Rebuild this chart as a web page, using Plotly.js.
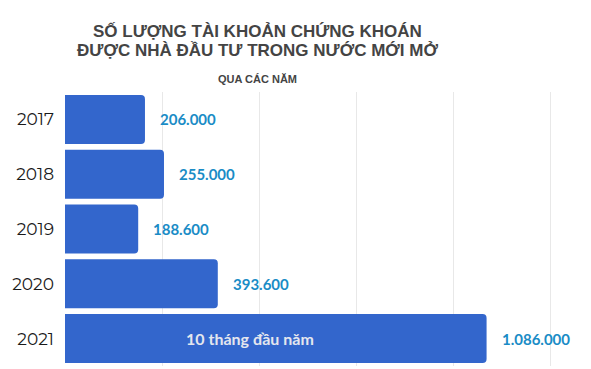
<!DOCTYPE html>
<html>
<head>
<meta charset="utf-8">
<script src="https://cdn.plot.ly/plotly-3.0.1.min.js"></script>
<style>html,body{margin:0;padding:0;background:#fff;}#chart{width:591px;height:369px;}</style>
</head>
<body>
<div id="chart"></div>
<script>
const years = ["2017", "2018", "2019", "2020", "2021"];
const accounts = [206000, 255000, 188600, 393600, 1086000];
const valueLabels = ["206.000", "255.000", "188.600", "393.600", "1.086.000"];
const insideLabels = ["", "", "", "", "10 tháng đầu năm"];
const titleLine1 = "SỐ LƯỢNG TÀI KHOẢN CHỨNG KHOÁN";
const titleLine2 = "ĐƯỢC NHÀ ĐẦU TƯ TRONG NƯỚC MỚI MỞ";
const subtitle = "QUA CÁC NĂM";

const trace = {
  type: "bar",
  orientation: "h",
  y: years,
  x: accounts,
  marker: {color: "#3366CC", cornerradius: 4, line: {width: 0}},
  width: 0.895,
  hoverinfo: "none"
};

const annotations = [];
years.forEach((y, i) => {
  annotations.push({
    x: accounts[i], y: i, xref: "x", yref: "y",
    text: "<b>" + valueLabels[i] + "</b>",
    showarrow: false, xanchor: "left", yanchor: "middle", xshift: 13,
    font: {family: "Lato, sans-serif", size: 15, color: "#1A8CC6", weight: 900}
  });
  if (insideLabels[i]) {
    annotations.push({
      x: accounts[i] * 0.44, y: i, xref: "x", yref: "y",
      text: insideLabels[i],
      showarrow: false, xanchor: "center", yanchor: "middle",
      font: {family: "Lato, sans-serif", size: 16, color: "#E4E6EE", weight: 700}
    });
  }
});

// Title lines as paper annotations (centred at x≈257px)
const titleX = (257 - 65) / 526;
const titleFont = {family: "Liberation Sans, Arial, sans-serif", size: 17, color: "#444444", weight: 700};
annotations.push(
  {xref: "paper", yref: "paper", x: titleX, y: 1, yshift: 61, xanchor: "center", yanchor: "middle",
   showarrow: false, text: "<b>" + titleLine1 + "</b>", font: titleFont},
  {xref: "paper", yref: "paper", x: titleX, y: 1, yshift: 42, xanchor: "center", yanchor: "middle",
   showarrow: false, text: "<b>" + titleLine2 + "</b>", font: titleFont},
  {xref: "paper", yref: "paper", x: titleX, y: 1, yshift: 13, xanchor: "center", yanchor: "middle",
   showarrow: false, text: "<b>" + subtitle + "</b>",
   font: {family: "Liberation Sans, Arial, sans-serif", size: 11, color: "#444444"}}
);

const layout = {
  width: 591, height: 369,
  margin: {l: 65, r: 0, t: 92, b: 3},
  paper_bgcolor: "#ffffff", plot_bgcolor: "#ffffff",
  showlegend: false,
  xaxis: {
    range: [0, 1355000], dtick: 250000, tick0: 0,
    showgrid: true, gridcolor: "#E8E8E8", gridwidth: 1,
    zeroline: false, showticklabels: false, showline: false, ticks: "",
    fixedrange: true
  },
  yaxis: {
    autorange: "reversed", type: "category",
    showgrid: false, zeroline: false, showline: false,
    ticks: "", ticklabelstandoff: 10,
    tickfont: {family: "Montserrat, Lato, sans-serif", size: 17, color: "#1a1a1a"}
  },
  annotations: annotations
};

Plotly.newPlot("chart", [trace], layout, {displayModeBar: false, staticPlot: true});
</script>
</body>
</html>
